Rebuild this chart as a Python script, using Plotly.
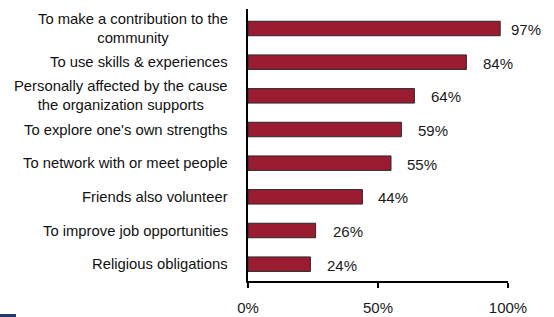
import plotly.graph_objects as go

categories = [
    "To make a contribution to the<br>community",
    "To use skills & experiences",
    "Personally affected by the cause<br>the organization supports",
    "To explore one's own strengths",
    "To network with or meet people",
    "Friends also volunteer",
    "To improve job opportunities",
    "Religious obligations",
]
values = [97, 84, 64, 59, 55, 44, 26, 24]
tick_vals = [0, 50, 100]
tick_text = ["0%", "50%", "100%"]

label_shift = [9, 15, 15, 15, 14, 14, 15, 15]

FONT = "Arial, Liberation Sans, sans-serif"
BAR = "#9B1B30"

fig = go.Figure()
fig.add_trace(go.Bar(
    x=values, y=categories, orientation="h",
    marker=dict(color=BAR, line=dict(color="#2a2a2a", width=1)),
    hoverinfo="skip",
))

annotations = []
for cat, v, s in zip(categories, values, label_shift):
    annotations.append(dict(
        x=v, y=cat, xref="x", yref="y", text=f"{v}%", showarrow=False,
        xanchor="left", xshift=s, yshift=-1,
        font=dict(family=FONT, size=15, color="#1a1a1a"),
    ))
    annotations.append(dict(
        x=0, y=cat, xref="paper", yref="y", text=cat, showarrow=False,
        xanchor="right", align="center", xshift=-18,
        font=dict(family=FONT, size=14.8, color="#111111"),
    ))

PLOT_W, PLOT_H = 260, 272

fig.update_layout(
    width=554, height=317,
    margin=dict(l=248, r=46, t=9, b=36, autoexpand=False),
    paper_bgcolor="white", plot_bgcolor="white",
    showlegend=False,
    bargap=0.57,
    font=dict(family=FONT, size=15, color="#1a1a1a"),
    xaxis=dict(
        range=[0, 100], tickvals=tick_vals, ticktext=tick_text,
        showgrid=False, zeroline=False, automargin=False,
        showline=True, linecolor="black", linewidth=2,
        ticks="outside", ticklen=5, tickwidth=1.5, tickcolor="black",
        ticklabelstandoff=7,
        tickfont=dict(family=FONT, size=15, color="#1a1a1a"),
    ),
    yaxis=dict(
        autorange="reversed", showticklabels=False, automargin=False,
        showgrid=False, zeroline=False,
        showline=True, linecolor="black", linewidth=2, ticks="",
    ),
    annotations=annotations,
    shapes=[dict(
        type="rect", xref="paper", yref="paper",
        x0=-248 / PLOT_W, x1=-232 / PLOT_W,
        y0=-37 / PLOT_H, y1=-33 / PLOT_H,
        fillcolor="#1F3A6B", line=dict(width=0), layer="above",
    )],
)

fig.write_html(
    "out.html",
    config={"displayModeBar": False},
    post_script="document.body.style.margin='0';document.body.style.overflow='hidden';",
)
